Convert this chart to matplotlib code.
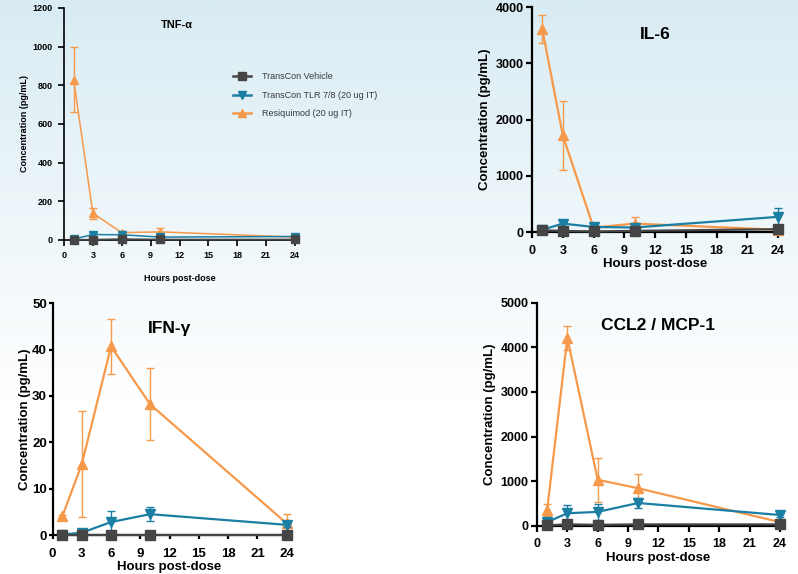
import numpy as np
import matplotlib
matplotlib.use("Agg")
import matplotlib.pyplot as plt
from matplotlib.colors import LinearSegmentedColormap
from matplotlib.lines import Line2D

plt.rcParams['font.family'] = ['Liberation Sans', 'DejaVu Sans']
plt.rcParams['font.weight'] = 'bold'

hours = [1, 3, 6, 10, 24]
x_ticks = [0, 3, 6, 9, 12, 15, 18, 21, 24]
series_names = ["TransCon Vehicle", "TransCon TLR 7/8 (20 ug IT)", "Resiquimod (20 ug IT)"]

# TNF-alpha (pg/mL)
tnf_vehicle = [2, 2, 5, 3, 3]
tnf_tlr = [5, 28, 27, 15, 18]
tnf_tlr_err = [3, 10, 8, 4, 10]
tnf_resiq = [830, 138, 38, 42, 15]
tnf_resiq_err = [170, 28, 6, 22, 4]

# IL-6 (pg/mL)
il6_vehicle = [30, 20, 10, 20, 50]
il6_tlr = [40, 150, 90, 80, 270]
il6_tlr_err = [10, 70, 20, 15, 160]
il6_resiq = [3610, 1720, 80, 150, 40]
il6_resiq_err = [250, 620, 20, 120, 40]

# IFN-gamma (pg/mL)
ifn_vehicle = [0, 0, 0, 0, 0]
ifn_tlr = [0.1, 0.5, 2.8, 4.5, 2.2]
ifn_tlr_err = [0.1, 0.4, 2.4, 1.5, 0.5]
ifn_resiq = [4.0, 15.3, 40.7, 28.2, 2.5]
ifn_resiq_err = [0.3, 11.5, 6.0, 7.8, 2.0]

# CCL2 / MCP-1 (pg/mL)
ccl2_vehicle = [10, 30, 20, 30, 30]
ccl2_tlr = [80, 280, 310, 510, 240]
ccl2_tlr_err = [40, 190, 180, 110, 40]
ccl2_resiq = [350, 4210, 1030, 840, 80]
ccl2_resiq_err = [130, 270, 490, 320, 30]

c_vehicle = "#454545"
c_tlr = "#1b7ea3"
c_resiq = "#f7994a"


def draw_panel(ax, title, veh, tlr, tlr_err, res, res_err, ymax, ystep,
               tick_fs, label_fs, title_fs, title_xy, small=False,
               tick_len=4, tick_pad=2, xtick_pad=5, ylab_pad=3):
    lw = 1.1 if small else 1.6
    ms = 6 if small else 6.5
    ax.errorbar(hours, res, yerr=res_err, color=c_resiq, marker="^", ms=ms,
                lw=lw, elinewidth=1.0, capsize=3, capthick=1.0, zorder=3,
                clip_on=False)
    ax.errorbar(hours, tlr, yerr=tlr_err, color=c_tlr, marker="v", ms=ms,
                lw=lw, elinewidth=1.0, capsize=3, capthick=1.0, zorder=4,
                clip_on=False)
    ax.plot(hours, veh, color=c_vehicle, marker="s", ms=ms, lw=lw, zorder=5,
            clip_on=False)
    ax.set_xlim(0, 24)
    ax.set_ylim(0, ymax)
    ax.set_xticks(x_ticks)
    ax.set_yticks(np.arange(0, ymax + 1, ystep))
    ax.patch.set_alpha(0)
    for s in ["top", "right"]:
        ax.spines[s].set_visible(False)
    spw = 1.2 if small else 1.6
    ax.spines["left"].set_linewidth(spw)
    ax.spines["bottom"].set_linewidth(spw)
    ax.tick_params(width=spw, length=tick_len, labelsize=tick_fs, pad=tick_pad)
    ax.tick_params(axis="x", pad=xtick_pad)
    for lab in ax.get_xticklabels() + ax.get_yticklabels():
        lab.set_fontweight("bold")
    ax.set_xlabel("Hours post-dose", fontsize=label_fs, fontweight="bold",
                  labelpad=10 if small else 1)
    ax.set_ylabel("Concentration (pg/mL)", fontsize=label_fs, fontweight="bold",
                  labelpad=ylab_pad)
    ax.text(title_xy[0], title_xy[1], title, transform=ax.transAxes,
            fontsize=title_fs, fontweight="bold", ha="center", va="center")


fig = plt.figure(figsize=(7.98, 5.74), dpi=100)

# background gradient
bg = fig.add_axes([0, 0, 1, 1], zorder=-10)
grad = np.linspace(0, 1, 256).reshape(-1, 1)
cmap = LinearSegmentedColormap.from_list("bg", [(0, "#d9ecf3"), (0.7, "#ffffff"), (1, "#ffffff")])
bg.imshow(grad, aspect="auto", cmap=cmap, extent=[0, 1, 0, 1], origin="upper")
bg.axis("off")

ax1 = fig.add_axes([0.0802, 0.5819, 0.2895, 0.4042])
ax2 = fig.add_axes([0.6667, 0.5958, 0.3083, 0.3915])
ax3 = fig.add_axes([0.0658, 0.0679, 0.2935, 0.4037])
ax4 = fig.add_axes([0.6729, 0.0841, 0.3045, 0.3885])

draw_panel(ax1, "TNF-α", tnf_vehicle, tnf_tlr, tnf_tlr_err, tnf_resiq, tnf_resiq_err,
           1200, 200, 6.5, 6.5, 8, (0.49, 0.925), small=True,
           tick_len=4, tick_pad=4, xtick_pad=4, ylab_pad=3)
draw_panel(ax2, "IL-6", il6_vehicle, il6_tlr, il6_tlr_err, il6_resiq, il6_resiq_err,
           4000, 1000, 9, 9.5, 12.5, (0.5, 0.88), xtick_pad=5)
draw_panel(ax3, "IFN-γ", ifn_vehicle, ifn_tlr, ifn_tlr_err, ifn_resiq, ifn_resiq_err,
           50, 10, 9.5, 9.5, 12.5, (0.5, 0.89), tick_len=3, tick_pad=1,
           xtick_pad=6, ylab_pad=1)
draw_panel(ax4, "CCL2 / MCP-1", ccl2_vehicle, ccl2_tlr, ccl2_tlr_err, ccl2_resiq, ccl2_resiq_err,
           5000, 1000, 9, 9.5, 12.5, (0.5, 0.9), xtick_pad=5)

legend_colors = [c_vehicle, c_tlr, c_resiq]
legend_markers = ["s", "v", "^"]
handles = [Line2D([], [], color=c, marker=m, ms=6, lw=1.8)
           for c, m in zip(legend_colors, legend_markers)]
leg = fig.legend(handles, series_names, loc="upper left",
                 bbox_to_anchor=(0.282, 0.888), frameon=False,
                 fontsize=6.5, handlelength=2.0, handletextpad=1.2,
                 labelspacing=1.05)
for t in leg.get_texts():
    t.set_color("#3a3a3a")
    t.set_fontweight("normal")

fig.savefig("out.png", dpi=100)
